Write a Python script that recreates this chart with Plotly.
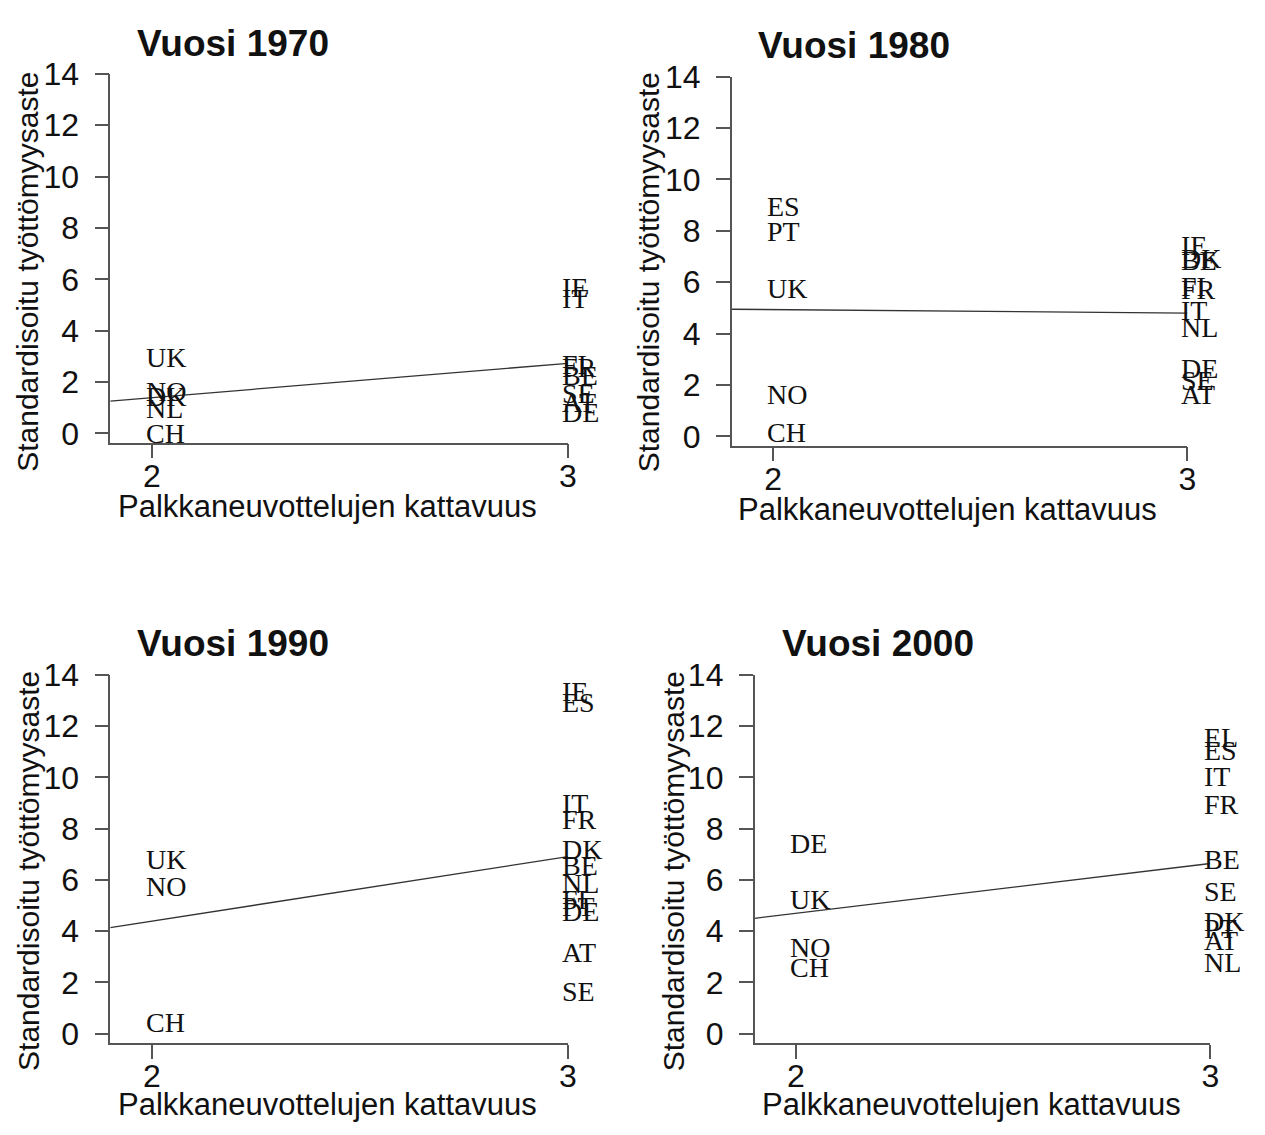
import plotly.graph_objects as go

# ---------------- data ----------------
years = ["1970", "1980", "1990", "2000"]

labels_1970 = ["UK", "NO", "DK", "NL", "CH",
               "IE", "IT", "FI", "FR", "BE", "SE", "AT", "DE"]
coverage_1970 = [2, 2, 2, 2, 2,
                 3, 3, 3, 3, 3, 3, 3, 3]
unemp_1970 = [2.96, 1.65, 1.44, 0.99, 0.0,
              5.7, 5.25, 2.7, 2.55, 2.25, 1.55, 1.2, 0.8]

labels_1980 = ["ES", "PT", "UK", "NO", "CH",
               "IE", "DK", "BE", "FI", "FR", "IT", "NL", "DE", "SE", "AT"]
coverage_1980 = [2, 2, 2, 2, 2,
                 3, 3, 3, 3, 3, 3, 3, 3, 3, 3]
unemp_1980 = [8.95, 7.97, 5.75, 1.63, 0.17,
              7.42, 6.92, 6.85, 5.85, 5.72, 4.9, 4.22, 2.65, 2.18, 1.63]

labels_1990 = ["UK", "NO", "CH",
               "IE", "ES", "IT", "FR", "DK", "BE", "NL", "FI", "PT", "DE", "AT", "SE"]
coverage_1990 = [2, 2, 2,
                 3, 3, 3, 3, 3, 3, 3, 3, 3, 3, 3, 3]
unemp_1990 = [6.81, 5.75, 0.45,
              13.36, 12.92, 8.97, 8.34, 7.19, 6.56, 5.85, 5.22, 4.95, 4.77, 3.18, 1.65]

labels_2000 = ["DE", "UK", "NO", "CH",
               "EL", "ES", "IT", "FR", "BE", "SE", "DK", "PT", "AT", "NL"]
coverage_2000 = [2, 2, 2, 2,
                 3, 3, 3, 3, 3, 3, 3, 3, 3, 3]
unemp_2000 = [7.44, 5.23, 3.36, 2.6,
              11.56, 11.07, 10.04, 8.93, 6.79, 5.53, 4.39, 4.12, 3.63, 2.79]

# fitted line, evaluated at the left plot edge and at coverage 3
fit_x = [1.9, 3.0]
fit_1970 = [1.26, 2.73]
fit_1980 = [4.95, 4.80]
fit_1990 = [4.14, 6.91]
fit_2000 = [4.50, 6.64]

x_ticks = [2, 3]
y_ticks = [0, 2, 4, 6, 8, 10, 12, 14]
title_prefix = "Vuosi "
x_title = "Palkkaneuvottelujen kattavuus"
y_title = "Standardisoitu työttömyysaste"

panels = [
    (labels_1970, coverage_1970, unemp_1970, fit_1970),
    (labels_1980, coverage_1980, unemp_1980, fit_1980),
    (labels_1990, coverage_1990, unemp_1990, fit_1990),
    (labels_2000, coverage_2000, unemp_2000, fit_2000),
]

# ---------------- layout geometry ----------------
# the page body has an 8px margin; figure is sized to fit inside it
OFF = 8
W, H = 1265 - 2 * OFF, 1135 - 2 * OFF
# (axis-left px, plot-right px, plot-top px, plot-bottom px) in page pixels
geom = [
    (111, 572, 57, 435),
    (737, 1196, 60, 438),
    (111, 572, 673, 1050),
    (760, 1219, 673, 1050),
]
title_pos = [(235, 26), (860, 28), (235, 641), (884, 641)]
xtitle_pos = [(330, 500), (954, 503), (330, 1113), (978, 1113)]
ytitle_pos = [(28, 260), (654, 260), (28, 874), (678, 874)]


def px(x):
    return (x - OFF) / W


def py(y):
    return 1 - (y - OFF) / H


SANS = "Liberation Sans, Arial, Helvetica, sans-serif"
SERIF = "Liberation Serif, Times New Roman, serif"
AXC = "#555555"

fig = go.Figure()
layout = dict(
    width=W, height=H,
    margin=dict(l=0, r=0, t=0, b=0),
    paper_bgcolor="white", plot_bgcolor="white",
    showlegend=False,
)
annotations = []

for i, ((labs, cov, val, fit), (xl, xr, yt, yb)) in enumerate(zip(panels, geom)):
    n = i + 1
    xa = "x" if n == 1 else f"x{n}"
    ya = "y" if n == 1 else f"y{n}"
    layout[f"xaxis{'' if n == 1 else n}"] = dict(
        domain=[px(xl), px(xr)], anchor=ya,
        range=[1.9, 3.0], tickvals=x_ticks, ticktext=[str(t) for t in x_ticks],
        ticks="outside", ticklen=14, tickwidth=1.5, tickcolor=AXC,
        showline=True, linecolor=AXC, linewidth=1.5,
        showgrid=False, zeroline=False, ticklabelstandoff=-10,
        tickfont=dict(family=SANS, size=32, color="#111"),
    )
    layout[f"yaxis{'' if n == 1 else n}"] = dict(
        domain=[py(yb), py(yt)], anchor=xa,
        range=[-0.36, 14], tickvals=y_ticks, ticktext=[str(t) for t in y_ticks],
        ticks="outside", ticklen=14, tickwidth=1.5, tickcolor=AXC,
        showline=True, linecolor=AXC, linewidth=1.5,
        showgrid=False, zeroline=False, ticklabelstandoff=9,
        tickfont=dict(family=SANS, size=32, color="#111"),
    )
    fig.add_trace(go.Scatter(
        x=fit_x, y=fit, mode="lines", xaxis=xa, yaxis=ya,
        line=dict(color="#333333", width=1.3), hoverinfo="skip",
    ))
    for lab, cx, cy in zip(labs, cov, val):
        annotations.append(dict(
            x=cx, y=cy, xref=xa, yref=ya, text=lab, showarrow=False,
            xanchor="left", yanchor="middle", xshift=-8,
            font=dict(family=SERIF, size=28, color="#111"),
        ))
    tx, ty = title_pos[i]
    annotations.append(dict(
        x=px(tx), y=py(ty), xref="paper", yref="paper",
        text=f"<b>{title_prefix}{years[i]}</b>", showarrow=False,
        xanchor="center", yanchor="middle",
        font=dict(family=SANS, size=37, color="#111"),
    ))
    ax_x, ax_y = xtitle_pos[i]
    annotations.append(dict(
        x=px(ax_x), y=py(ax_y), xref="paper", yref="paper",
        text=x_title, showarrow=False, xanchor="center", yanchor="middle",
        font=dict(family=SANS, size=31, color="#111"),
    ))
    ay_x, ay_y = ytitle_pos[i]
    annotations.append(dict(
        x=px(ay_x), y=py(ay_y), xref="paper", yref="paper",
        text=y_title, showarrow=False, textangle=-90,
        xanchor="center", yanchor="middle",
        font=dict(family=SANS, size=30, color="#111"),
    ))

layout["annotations"] = annotations
fig.update_layout(**layout)
fig.write_html("out.html")
